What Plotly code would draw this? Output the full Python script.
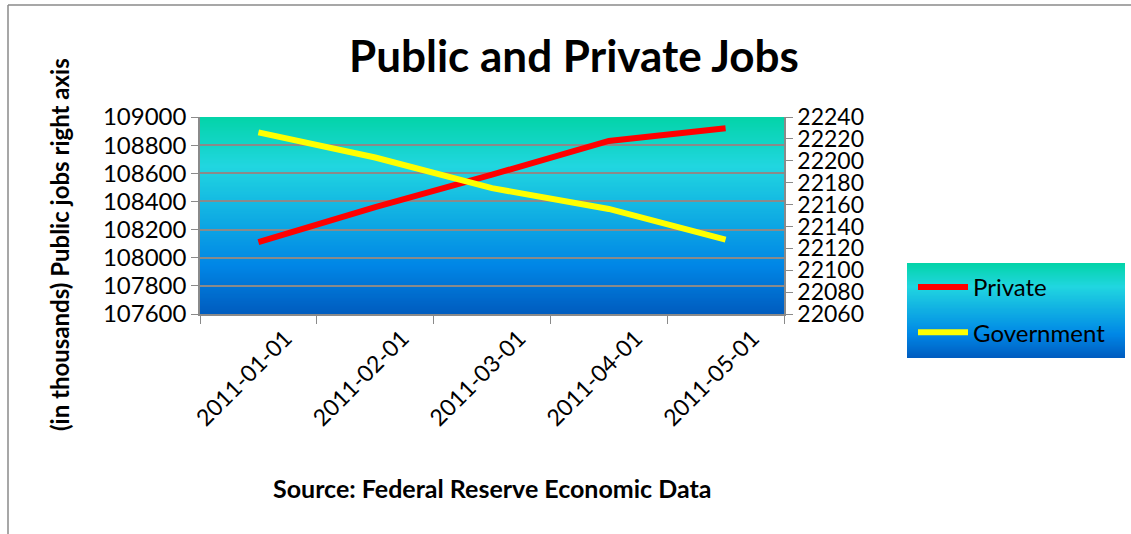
import plotly.graph_objects as go

# ---- data ----
dates = ["2011-01-01", "2011-02-01", "2011-03-01", "2011-04-01", "2011-05-01"]
private_jobs = [108110, 108360, 108590, 108830, 108920]
government_jobs = [22226, 22203, 22175, 22156, 22128]
left_ticks = [107600, 107800, 108000, 108200, 108400, 108600, 108800, 109000]
right_ticks = [22060, 22080, 22100, 22120, 22140, 22160, 22180, 22200, 22220, 22240]

W, H = 1131, 534
ML, MR, MT, MB = 200, 347, 117, 220
PW = W - ML - MR
PH = H - MT - MB


def px_x(px):
    return (px - ML) / PW


def px_y(py):
    return (H - MB - py) / PH


FONT = "Lato, 'Open Sans', sans-serif"
GRAY = "#8a8a8a"

# Excel "Ocean" gradient stops (top -> bottom)
stops = [(0.0, (3, 212, 168)), (0.25, (33, 214, 224)), (0.75, (0, 135, 230)), (1.0, (0, 92, 191))]


def grad(t):
    for (t0, c0), (t1, c1) in zip(stops[:-1], stops[1:]):
        if t0 <= t <= t1:
            f = (t - t0) / (t1 - t0)
            c = [round(a + (b - a) * f) for a, b in zip(c0, c1)]
            return "rgb(%d,%d,%d)" % tuple(c)
    return "rgb(%d,%d,%d)" % stops[-1][1]


shapes = []
N = 160
# plot area gradient
for i in range(N):
    t0 = i / N
    t1 = (i + 1) / N
    shapes.append(dict(type="rect", xref="x domain", yref="y domain",
                       x0=0, x1=1, y0=max(0, 1 - t1 - 0.006), y1=1 - t0,
                       fillcolor=grad((t0 + t1) / 2), line=dict(width=0), layer="below"))
# legend box gradient
lx0, lx1 = px_x(907), px_x(1125)
ly_top, ly_bot = px_y(263), px_y(358)
NL = 80
for i in range(NL):
    t0 = i / NL
    t1 = (i + 1) / NL
    shapes.append(dict(type="rect", xref="paper", yref="paper",
                       x0=lx0, x1=lx1,
                       y0=max(ly_bot, ly_top - (ly_top - ly_bot) * t1 - 0.008),
                       y1=ly_top - (ly_top - ly_bot) * t0,
                       fillcolor=grad((t0 + t1) / 2), line=dict(width=0), layer="below"))
# outer chart border (top and left)
shapes.append(dict(type="line", xref="paper", yref="paper",
                   x0=px_x(8), x1=px_x(1131), y0=px_y(5), y1=px_y(5),
                   line=dict(color=GRAY, width=1.5)))
shapes.append(dict(type="line", xref="paper", yref="paper",
                   x0=px_x(8), x1=px_x(8), y0=px_y(5), y1=px_y(534),
                   line=dict(color=GRAY, width=1.5)))

fig = go.Figure()
fig.add_trace(go.Scatter(x=dates, y=private_jobs, name="Private", mode="lines",
                         line=dict(color="#FF0000", width=6), legendgroup="a"))
fig.add_trace(go.Scatter(x=dates, y=government_jobs, name="Government", mode="lines",
                         line=dict(color="#FFFF00", width=6), yaxis="y2", legendgroup="b"))

fig.update_layout(
    width=W, height=H,
    margin=dict(l=ML, r=MR, t=MT, b=MB, pad=0),
    paper_bgcolor="white",
    plot_bgcolor="rgba(0,0,0,0)",
    font=dict(family=FONT, size=23, color="black"),
    title=dict(text="<b>Public and Private Jobs</b>", x=574 / W, xanchor="center",
               y=1 - 57 / H, yanchor="middle", font=dict(size=44, family=FONT, color="black")),
    xaxis=dict(type="category", tickson="boundaries", ticks="outside", ticklen=8,
               tickcolor=GRAY, showline=True, linecolor=GRAY, linewidth=1.5,
               showgrid=False, tickangle=-45, tickfont=dict(size=23),
               ticklabelshift=27, range=[-0.5, 4.5]),
    yaxis=dict(range=[107600, 109000], tickvals=left_ticks, tickformat="d",
               ticks="outside", ticklen=7,
               tickcolor=GRAY, showline=True, linecolor=GRAY, linewidth=1.5,
               showgrid=True, gridcolor=GRAY, gridwidth=1.5, zeroline=False,
               tickfont=dict(size=24)),
    yaxis2=dict(range=[22060, 22240], tickvals=right_ticks, tickformat="d",
                overlaying="y", side="right",
                ticks="outside", ticklen=7, tickcolor=GRAY, showline=True, linecolor=GRAY,
                linewidth=1.5, showgrid=False, zeroline=False, tickfont=dict(size=23)),
    legend=dict(x=px_x(913), xanchor="left", y=px_y(265), yanchor="top",
                bgcolor="rgba(0,0,0,0)", borderwidth=0, itemwidth=50,
                tracegroupgap=11, font=dict(size=24, family=FONT)),
    shapes=shapes,
    annotations=[
        dict(text="<b>(in thousands) Public jobs right axis</b>", xref="paper", yref="paper",
             x=px_x(59), y=px_y(245), textangle=-90, showarrow=False,
             xanchor="center", yanchor="middle", font=dict(size=24, family=FONT)),
        dict(text="<b>Source: Federal Reserve Economic Data</b>", xref="paper", yref="paper",
             x=px_x(492), y=px_y(488), showarrow=False,
             xanchor="center", yanchor="middle", font=dict(size=25, family=FONT)),
    ],
    showlegend=True,
)

fig.write_html("out.html")
